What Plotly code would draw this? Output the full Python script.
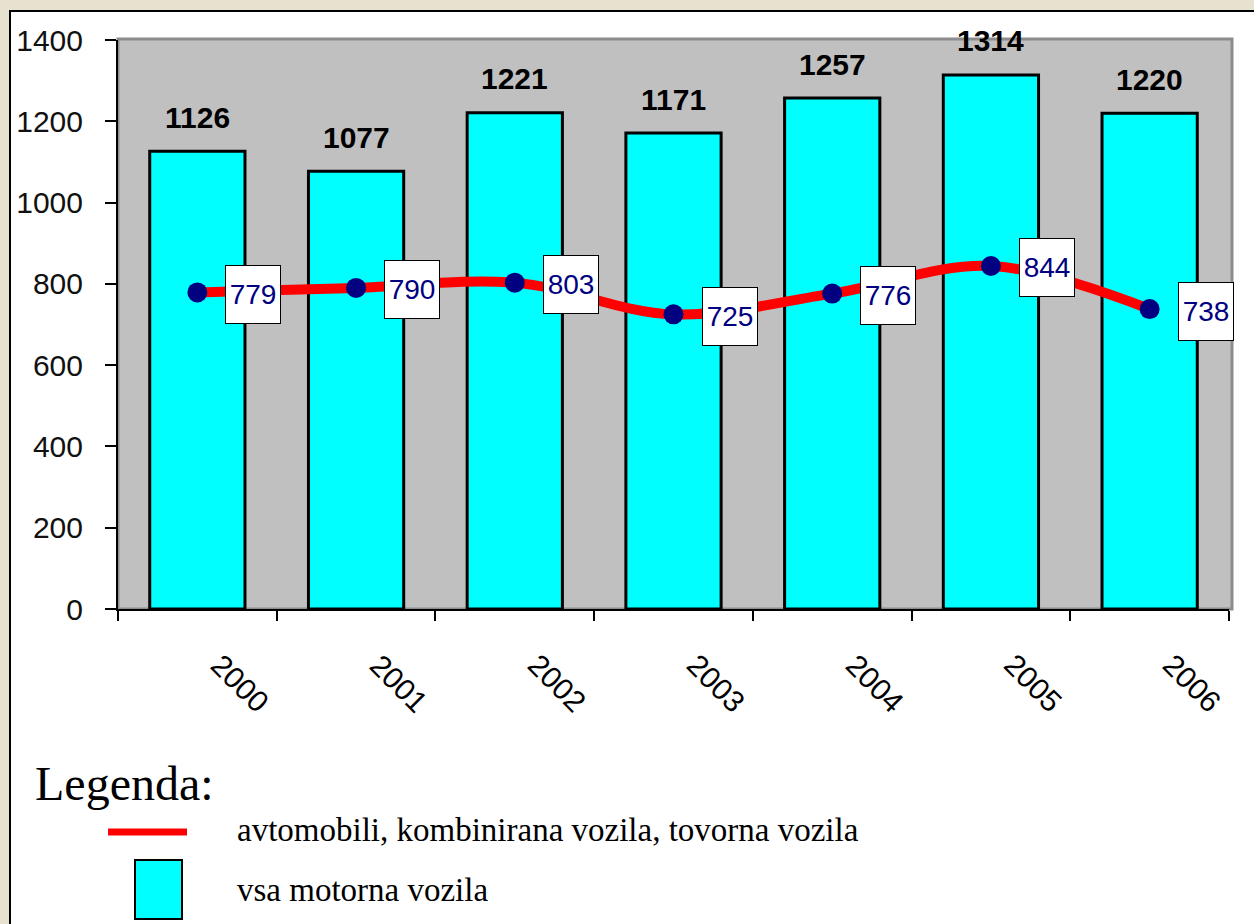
import plotly.graph_objects as go

# ---- data ----
years = ["2000", "2001", "2002", "2003", "2004", "2005", "2006"]
all_vehicles = [1126, 1077, 1221, 1171, 1257, 1314, 1220]
cars_trucks = [779, 790, 803, 725, 776, 844, 738]
y_ticks = [0, 200, 400, 600, 800, 1000, 1200, 1400]
legend_title = "Legenda:"
line_name = "avtomobili, kombinirana vozila, tovorna vozila"
bar_name = "vsa motorna vozila"

# ---- layout geometry (pixels) ----
W, H = 1254, 924
L, R, T, B = 118, 25, 40, 315
PW, PH = W - L - R, H - T - B


def px(x):
    return (x - L) / PW


def py(y):
    return (H - B - y) / PH


fig = go.Figure()

fig.add_trace(go.Bar(
    x=years, y=all_vehicles, name=bar_name, width=0.6,
    marker=dict(color="#00FFFF", line=dict(color="black", width=3)),
    showlegend=False, hoverinfo="x+y",
))

fig.add_trace(go.Scatter(
    x=years, y=cars_trucks, name=line_name, mode="lines+markers",
    line=dict(color="#FF0000", width=10, shape="spline", smoothing=1),
    marker=dict(color="#000080", size=20),
    showlegend=False,
))

annotations = []
# category axes: annotations placed by category index
for i, v in enumerate(all_vehicles):
    annotations.append(dict(
        x=i, y=v, xref="x", yref="y", text=str(v), showarrow=False,
        yshift=34, yanchor="middle",
        font=dict(family="Arial, Liberation Sans", size=30, color="black", weight="bold"),
    ))
for i, v in enumerate(cars_trucks):
    annotations.append(dict(
        x=i, y=v, xref="x", yref="y", text=str(v), showarrow=False,
        xshift=56, yshift=-2, width=50, height=53, borderpad=2,
        bgcolor="white", bordercolor="black", borderwidth=1,
        font=dict(family="Arial, Liberation Sans", size=28, color="#000080"),
    ))
# rotated category labels
for i, yr in enumerate(years):
    annotations.append(dict(
        x=i, y=0, xref="x", yref="y", text=yr, showarrow=False,
        textangle=45, xshift=43, yshift=-74,
        font=dict(family="Arial, Liberation Sans", size=30, color="black"),
    ))

# legend texts
annotations.append(dict(
    xref="paper", yref="paper", x=px(33), y=py(784), xanchor="left", yanchor="middle",
    text=legend_title, showarrow=False,
    font=dict(family="Liberation Serif, Times New Roman", size=48, color="black"),
))
annotations.append(dict(
    xref="paper", yref="paper", x=px(235), y=py(830), xanchor="left", yanchor="middle",
    text=line_name, showarrow=False,
    font=dict(family="Liberation Serif, Times New Roman", size=33, color="black"),
))
annotations.append(dict(
    xref="paper", yref="paper", x=px(235), y=py(890), xanchor="left", yanchor="middle",
    text=bar_name, showarrow=False,
    font=dict(family="Liberation Serif, Times New Roman", size=33, color="black"),
))

shapes = [
    # white panel with black border
    dict(type="rect", xref="paper", yref="paper", layer="below",
         x0=px(10), x1=px(1275), y0=py(940), y1=py(11),
         fillcolor="white", line=dict(color="black", width=2)),
    # grey plot area
    dict(type="rect", xref="paper", yref="paper", layer="below",
         x0=0, x1=px(1232), y0=0, y1=py(39),
         fillcolor="#C0C0C0", line=dict(color="#8C8C8C", width=3)),
    # legend samples
    dict(type="line", xref="paper", yref="paper", layer="above",
         x0=px(108), x1=px(187), y0=py(832), y1=py(832),
         line=dict(color="#FF0000", width=7)),
    dict(type="rect", xref="paper", yref="paper", layer="above",
         x0=px(135), x1=px(182), y0=py(919), y1=py(860),
         fillcolor="#00FFFF", line=dict(color="black", width=2)),
]

fig.update_layout(
    width=W, height=H,
    margin=dict(l=L, r=R, t=T, b=B, pad=0),
    paper_bgcolor="#E6E2CF",
    plot_bgcolor="rgba(0,0,0,0)",
    bargap=0.4,
    showlegend=False,
    annotations=annotations,
    shapes=shapes,
    font=dict(family="Arial, Liberation Sans", color="black"),
)

fig.update_xaxes(
    type="category", range=[-0.5, len(years) - 0.5], autorange=False,
    tickson="boundaries", ticks="outside", ticklen=10,
    tickwidth=2, tickcolor="black", showline=True, linecolor="black",
    linewidth=2, showgrid=False, showticklabels=False,
)
fig.update_yaxes(
    range=[0, 1400], autorange=False, tickvals=y_ticks, ticks="outside", ticklen=11,
    tickwidth=2, tickcolor="black", showline=True, linecolor="black",
    linewidth=2, showgrid=False, zeroline=False, ticklabelstandoff=16,
    tickfont=dict(family="Arial, Liberation Sans", size=30, color="#111111"),
)

fig.write_html("out.html", config={"displayModeBar": False},
               post_script="document.body.style.margin='0';")
